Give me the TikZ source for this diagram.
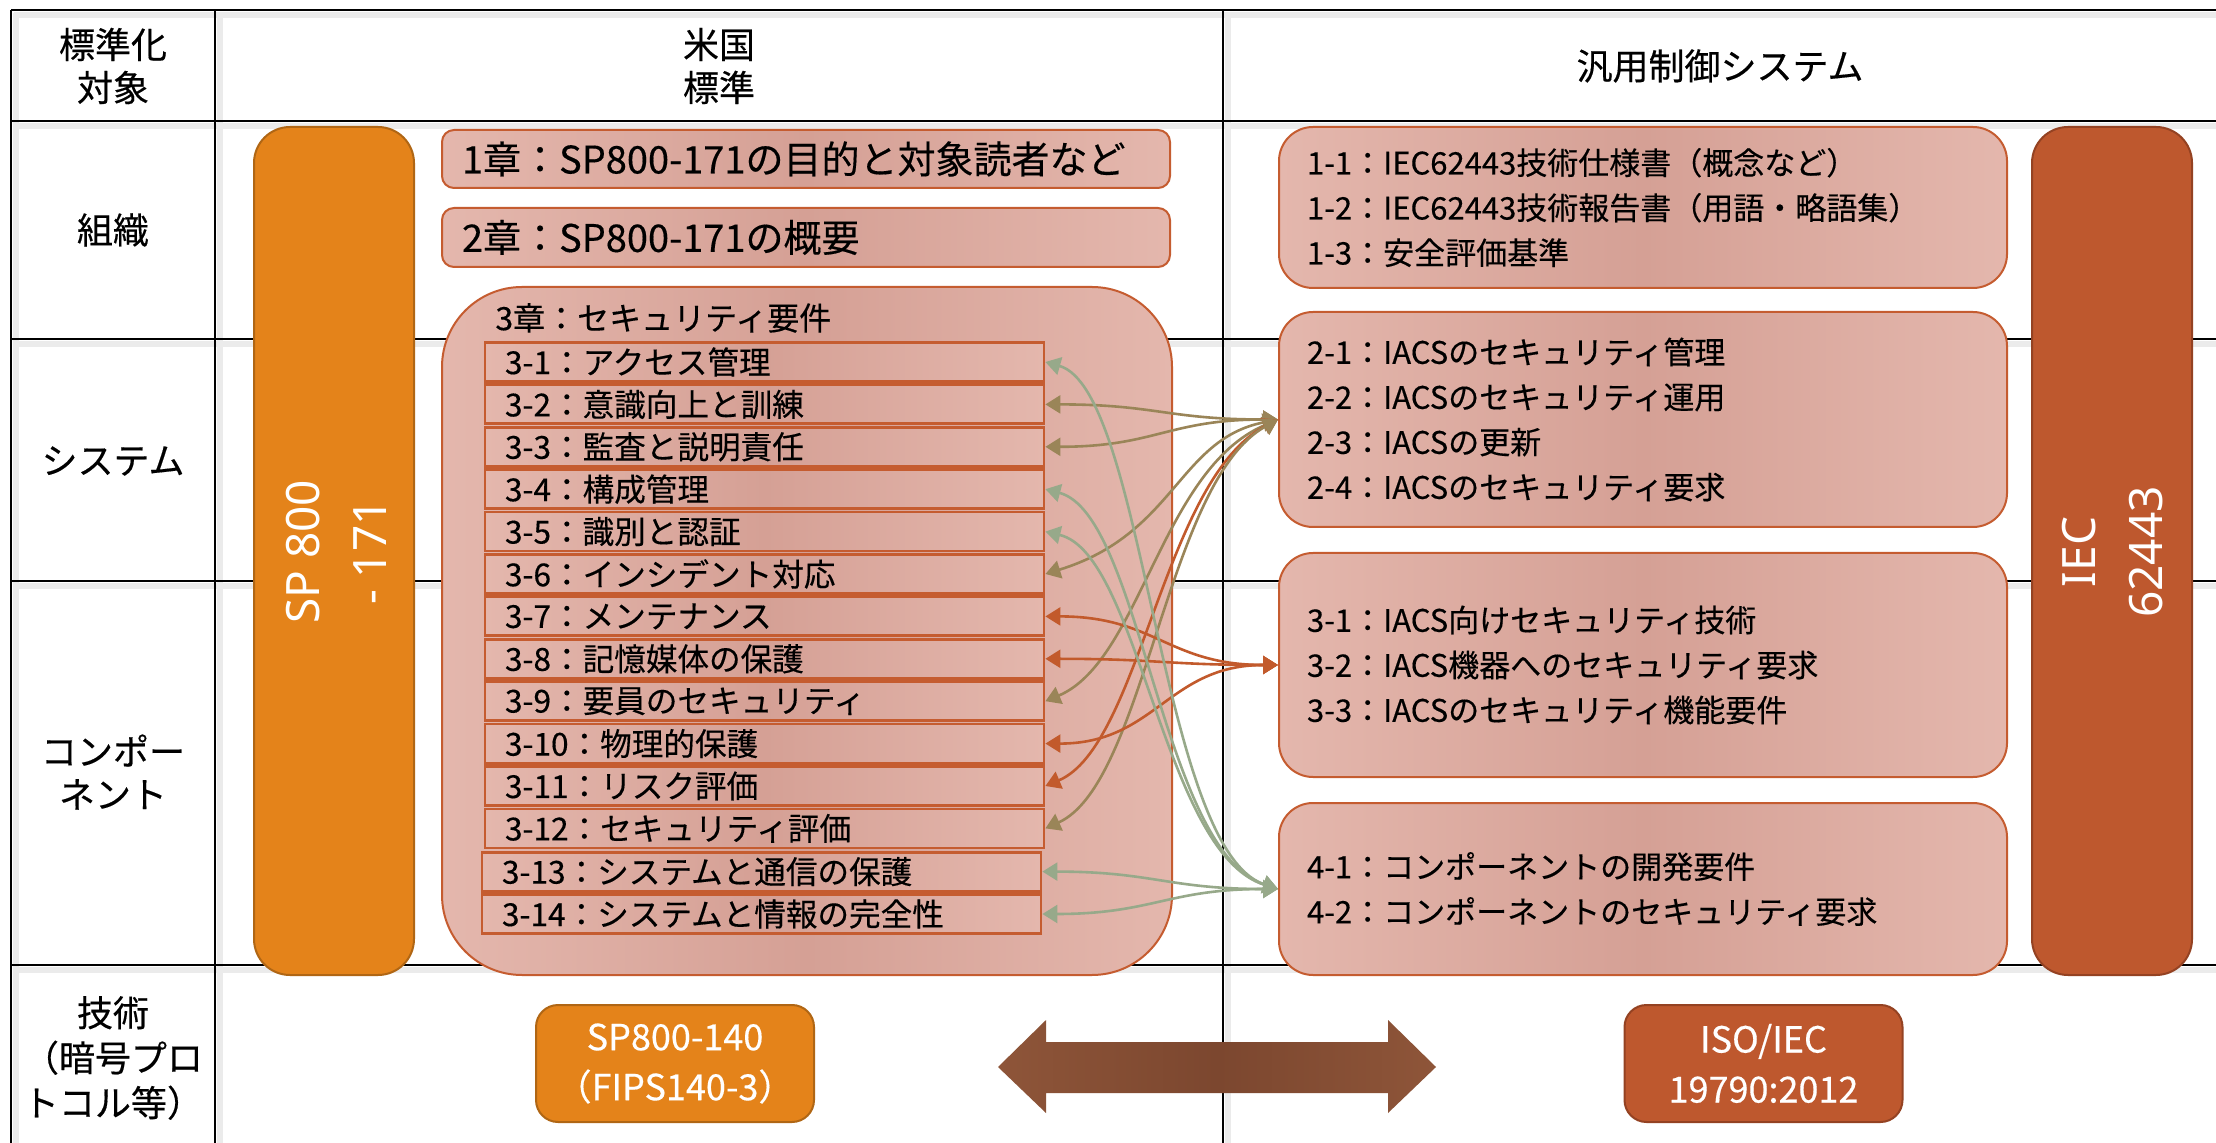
\documentclass[tikz,border=0pt]{standalone}
\usepackage{fontspec}
\setmainfont{Noto Sans CJK JP}[FakeBold=0.35]
\newfontfamily\latinsans{Noto Sans}
\usetikzlibrary{arrows.meta}
\definecolor{orF}{HTML}{E4831A}
\definecolor{orD}{HTML}{B06614}
\definecolor{ruF}{HTML}{BE582E}
\definecolor{ruD}{HTML}{944222}
\definecolor{ruB}{HTML}{C55C30}
\definecolor{pkL}{HTML}{E4B7AD}
\definecolor{pkD}{HTML}{D5A095}
\definecolor{olv}{HTML}{9A8558}
\definecolor{grn}{HTML}{97A98A}
\definecolor{rst}{HTML}{C25A2C}
\definecolor{brL}{HTML}{8E5539}
\definecolor{brD}{HTML}{7C472F}
\tikzset{
  tline/.style={line width=1.2pt, black},
  tshadow/.style={line width=3pt, black!8},
  pinkfill/.style={left color=pkL, right color=pkL, middle color=pkD},
  lbl/.style={align=center, inner sep=0pt, font=\fontsize{18}{21.5}\selectfont},
  chapbox/.style={pinkfill, draw=ruB, line width=1pt, rounded corners=6pt,
    minimum width=364pt, text width=344pt, inner xsep=10pt, align=left,
    font=\fontsize{19}{22}\selectfont},
  itembox/.style={pinkfill, draw=ruB, line width=1.4pt, minimum width=279.5pt,
    minimum height=19.5pt, text width=259.5pt, inner xsep=10pt, inner ysep=0pt,
    align=left, font=\fontsize{15.8}{18}\selectfont},
  rbox/.style={pinkfill, draw=ruB, line width=1pt, rounded corners=17pt,
    minimum width=364pt, text width=336pt, inner xsep=14pt, align=left,
    font=\fontsize{15.5}{22.5}\selectfont},
  orbar/.style={fill=orF, draw=orD, line width=1pt, rounded corners=18pt,
    minimum width=80pt, minimum height=424pt},
  rubar/.style={fill=ruF, draw=ruD, line width=1pt, rounded corners=18pt,
    minimum width=80pt, minimum height=424pt},
  bartext/.style={rotate=90, text=white, align=center, inner sep=0pt,
    font=\latinsans\fontsize{23}{33.5}\selectfont},
  botbox/.style={line width=1pt, rounded corners=11pt, minimum width=139pt,
    minimum height=58.5pt, text=white, align=center,
    font=\fontsize{18}{25}\selectfont},
  conn/.style={line width=1.3pt, >={Triangle[length=7.5pt,width=9pt]}, <->}
}
\begin{document}
\begin{tikzpicture}[x=0.5pt,y=-0.5pt]
\useasboundingbox (0,0) rectangle (2216,1143);
\fill[white] (0,0) rectangle (2216,1143);
% table shadows
\foreach \yy in {10,121,339,581,965} \draw[tshadow] (14,\yy+5) -- (2216,\yy+5);
\foreach \xx in {11,215,1223} \draw[tshadow] (\xx+5,13) -- (\xx+5,1143);
% table lines
\foreach \yy in {10,121,339,581,965} \draw[tline] (11,\yy) -- (2216,\yy);
\foreach \xx in {11,215,1223} \draw[tline] (\xx,10) -- (\xx,1143);
% header and row labels
\node[lbl] (h1) at (113,66) {標準化\\対象};
\node[lbl] (h2) at (719,66) {米国\\標準};
\node[lbl] (h3) at (1720,66) {汎用制御システム};
\node[lbl] (r1) at (113,230) {組織};
\node[lbl] (r2) at (113,461) {システム};
\node[lbl] (r3) at (113,772) {コンポー\\ネント};
\node[lbl, font=\fontsize{18}{22.5}\selectfont] (r4) at (113,1058) {技術\\（暗号プロ\\トコル等）};
% bars
\node[orbar] (spbar) at (334,551) {};
\node[bartext] (sptext) at (336,552) {SP 800\\- 171};
\node[rubar] (iecbar) at (2112,551) {};
\node[bartext] (iectext) at (2113,552) {IEC\\62443};
% chapters
\node[chapbox, minimum height=29pt] (ch1) at (806,159) {1章：SP800-171の目的と対象読者など};
\node[chapbox, minimum height=29.5pt] (ch2) at (806,237.5) {2章：SP800-171の概要};
\node[pinkfill, draw=ruB, line width=1pt, rounded corners=40pt,
  minimum width=365pt, minimum height=344pt] (ch3) at (807,631) {};
\node[anchor=west, inner sep=0pt, font=\fontsize{16}{18}\selectfont] (ch3t) at (495,318) {3章：セキュリティ要件};
% items
\node[itembox] (i1) at (764.5,362) {3-1：アクセス管理};
\node[itembox] (i2) at (764.5,404.4) {3-2：意識向上と訓練};
\node[itembox] (i3) at (764.5,446.8) {3-3：監査と説明責任};
\node[itembox] (i4) at (764.5,489.2) {3-4：構成管理};
\node[itembox] (i5) at (764.5,531.6) {3-5：識別と認証};
\node[itembox] (i6) at (764.5,574) {3-6：インシデント対応};
\node[itembox] (i7) at (764.5,616.4) {3-7：メンテナンス};
\node[itembox] (i8) at (764.5,658.8) {3-8：記憶媒体の保護};
\node[itembox] (i9) at (764.5,701.2) {3-9：要員のセキュリティ};
\node[itembox] (i10) at (764.5,743.6) {3-10：物理的保護};
\node[itembox] (i11) at (764.5,786) {3-11：リスク評価};
\node[itembox] (i12) at (764.5,828.4) {3-12：セキュリティ評価};
\node[itembox] (i13) at (761.5,871.6) {3-13：システムと通信の保護};
\node[itembox] (i14) at (761.5,914) {3-14：システムと情報の完全性};
% right boxes
\node[rbox, minimum height=80.5pt] (b1) at (1643,207.5) {1-1：IEC62443技術仕様書（概念など）\\1-2：IEC62443技術報告書（用語・略語集）\\1-3：安全評価基準};
\node[rbox, minimum height=107.5pt] (b2) at (1643,419.5) {2-1：IACSのセキュリティ管理\\2-2：IACSのセキュリティ運用\\2-3：IACSの更新\\2-4：IACSのセキュリティ要求};
\node[rbox, minimum height=112pt] (b3) at (1643,665) {3-1：IACS向けセキュリティ技術\\3-2：IACS機器へのセキュリティ要求\\3-3：IACSのセキュリティ機能要件};
\node[rbox, minimum height=86pt] (b4) at (1643,889) {4-1：コンポーネントの開発要件\\4-2：コンポーネントのセキュリティ要求};
% connectors to b2
\draw[conn, olv] (i2.east) .. controls +(110,0) and +(-110,0) .. (b2.west);
\draw[conn, olv] (i3.east) .. controls +(110,0) and +(-110,0) .. (b2.west);
\draw[conn, olv] (i6.east) .. controls +(130,-40) and +(-100,20) .. (b2.west);
\draw[conn, olv] (i9.east) .. controls +(95,-40) and +(-117,50) .. (b2.west);
\draw[conn, rst] (i11.east) .. controls +(95,-40) and +(-115,60) .. (b2.west);
\draw[conn, olv] (i12.east) .. controls +(100,-45) and +(-112,62) .. (b2.west);
% connectors to b3
\draw[conn, rst] (i7.east) .. controls +(110,0) and +(-110,0) .. (b3.west);
\draw[conn, rst] (i8.east) .. controls +(110,0) and +(-110,0) .. (b3.west);
\draw[conn, rst] (i10.east) .. controls +(110,0) and +(-110,0) .. (b3.west);
% connectors to b4
\draw[conn, grn] (i1.east) .. controls +(100,28) and +(-119,-40) .. (b4.west);
\draw[conn, grn] (i4.east) .. controls +(96,25) and +(-117,-38) .. (b4.west);
\draw[conn, grn] (i5.east) .. controls +(94,22) and +(-115,-36) .. (b4.west);
\draw[conn, grn] (i13.east) .. controls +(110,0) and +(-110,0) .. (b4.west);
\draw[conn, grn] (i14.east) .. controls +(110,0) and +(-110,0) .. (b4.west);
% bottom row
\node[botbox, fill=orF, draw=orD] (sp140) at (675,1063.5) {SP800-140\\（FIPS140-3）};
\node[botbox, fill=ruF, draw=ruD] (iso) at (1763.5,1063.5) {ISO/IEC\\19790:2012};
\shade[left color=brL, right color=brL, middle color=brD]
  (998,1067) -- (1046,1020) -- (1046,1042) -- (1388,1042) -- (1388,1020) -- (1436,1067)
  -- (1388,1113) -- (1388,1093) -- (1046,1093) -- (1046,1113) -- cycle;
\end{tikzpicture}
\end{document}
